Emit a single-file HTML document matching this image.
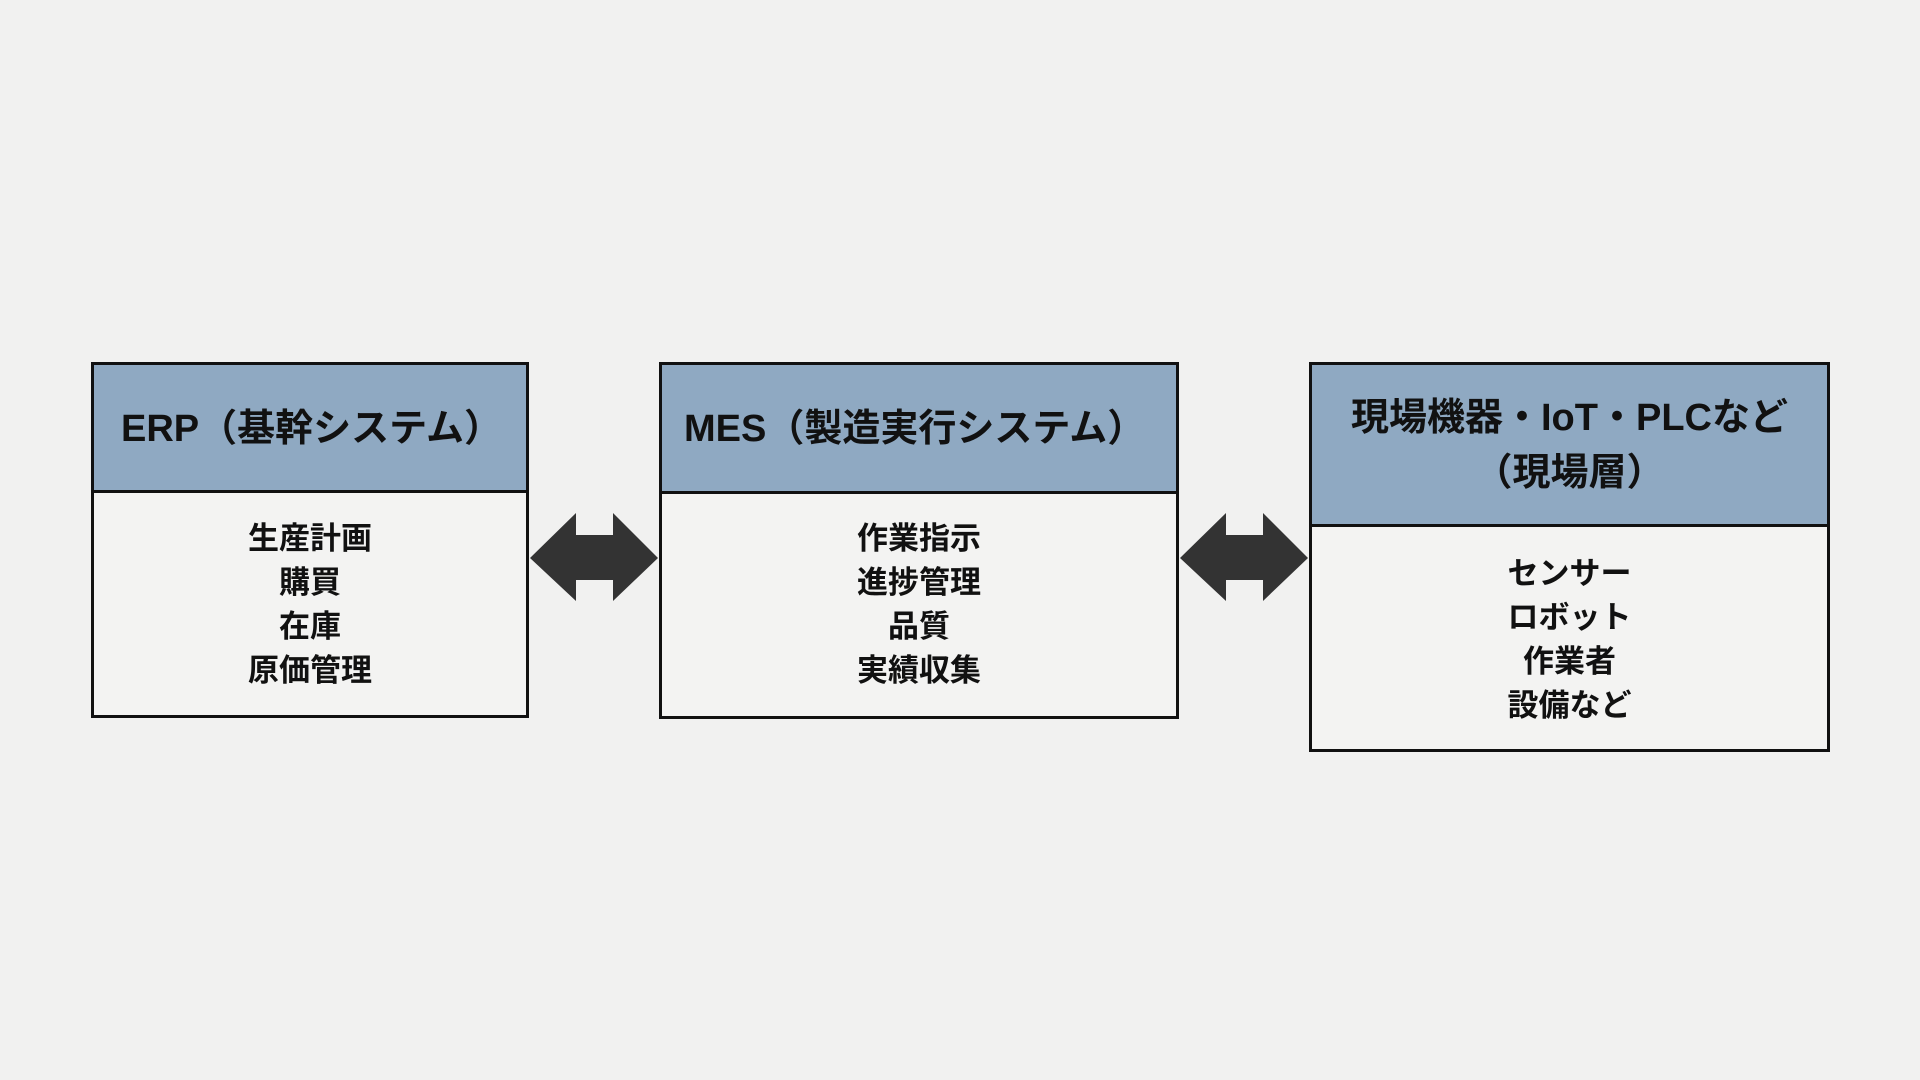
<!DOCTYPE html>
<html><head><meta charset="utf-8"><style>
body{margin:0;width:1920px;height:1080px;background:#f1f1f0;position:relative;overflow:hidden;font-family:"Liberation Sans","Noto Sans CJK JP",sans-serif;font-weight:bold;color:#111}
.box{position:absolute;border:3px solid #111;box-sizing:border-box;background:#f3f3f2}
.hd{position:absolute;left:0;right:0;top:0;background:#8fa9c2;border-bottom:3px solid #111;box-sizing:border-box}
.t{position:absolute;white-space:nowrap;line-height:1}
.h{font-size:38px}
.b{font-size:31px;left:0;right:0;text-align:center}
</style></head><body>
<div class="box" style="left:91px;top:362px;width:438px;height:356px">
 <div class="hd" style="height:128px"></div>
 <div class="t h" style="left:27px;top:45px">ERP（基幹システム）</div>
 <div class="t b" style="top:158px">生産計画</div>
 <div class="t b" style="top:202px">購買</div>
 <div class="t b" style="top:246px">在庫</div>
 <div class="t b" style="top:290px">原価管理</div>
</div>
<div class="box" style="left:659px;top:362px;width:520px;height:357px">
 <div class="hd" style="height:129px"></div>
 <div class="t h" style="left:22px;top:45px">MES（製造実行システム）</div>
 <div class="t b" style="top:158px">作業指示</div>
 <div class="t b" style="top:202px">進捗管理</div>
 <div class="t b" style="top:246px">品質</div>
 <div class="t b" style="top:290px">実績収集</div>
</div>
<div class="box" style="left:1309px;top:362px;width:521px;height:390px">
 <div class="hd" style="height:162px"></div>
 <div class="t h" style="left:0;right:0;text-align:center;top:34px">現場機器・IoT・PLCなど</div>
 <div class="t h" style="left:0;right:0;text-align:center;top:89px">（現場層）</div>
 <div class="t b" style="top:193px">センサー</div>
 <div class="t b" style="top:237px">ロボット</div>
 <div class="t b" style="top:281px">作業者</div>
 <div class="t b" style="top:325px">設備など</div>
</div>
<svg width="1920" height="1080" style="position:absolute;left:0;top:0">
 <polygon fill="#333" points="530,558 576,513 576,535 613,535 613,513 658,558 613,601 613,580 576,580 576,601"/>
 <polygon fill="#333" points="1180,558 1226,513 1226,535 1263,535 1263,513 1308,558 1263,601 1263,580 1226,580 1226,601"/>
</svg>
</body></html>
